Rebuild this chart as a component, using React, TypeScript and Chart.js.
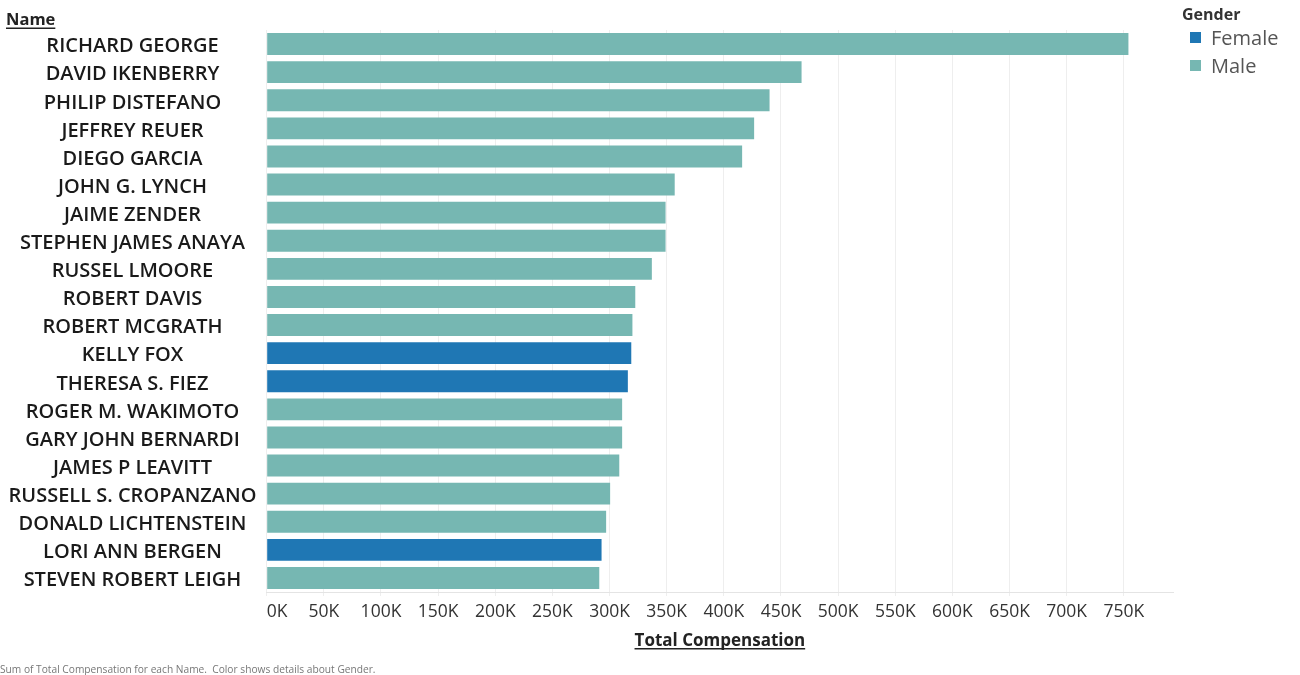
import React, { useEffect, useRef } from "react";
import { Chart, registerables } from "chart.js";

Chart.register(...registerables);

const names = [
  "RICHARD GEORGE",
  "DAVID IKENBERRY",
  "PHILIP DISTEFANO",
  "JEFFREY REUER",
  "DIEGO GARCIA",
  "JOHN G. LYNCH",
  "JAIME ZENDER",
  "STEPHEN JAMES ANAYA",
  "RUSSEL LMOORE",
  "ROBERT DAVIS",
  "ROBERT MCGRATH",
  "KELLY FOX",
  "THERESA S. FIEZ",
  "ROGER M. WAKIMOTO",
  "GARY JOHN BERNARDI",
  "JAMES P LEAVITT",
  "RUSSELL S. CROPANZANO",
  "DONALD LICHTENSTEIN",
  "LORI ANN BERGEN",
  "STEVEN ROBERT LEIGH",
];

const compensation = [
  754000, 468000, 440000, 426500, 416000, 357000, 349000, 349000, 337000,
  322500, 320000, 319000, 316000, 311000, 311000, 308500, 300500, 297000,
  293000, 291000,
];

const genders = [
  "Male", "Male", "Male", "Male", "Male", "Male", "Male", "Male", "Male",
  "Male", "Male", "Female", "Female", "Male", "Male", "Male", "Male", "Male",
  "Female", "Male",
];

const genderLabels = ["Female", "Male"];
const genderColors = ["#1F77B4", "#76B7B2"];

const tickValues = [
  0, 50000, 100000, 150000, 200000, 250000, 300000, 350000, 400000, 450000,
  500000, 550000, 600000, 650000, 700000, 750000,
];
const axisMax = 793000;

const FONT = '"Open Sans", "Noto Sans", sans-serif';

function underlinedText(ctx: CanvasRenderingContext2D, text: string, x: number, y: number, align: CanvasTextAlign) {
  ctx.textAlign = align;
  ctx.fillText(text, x, y);
  const w = ctx.measureText(text).width;
  const left = align === "center" ? x - w / 2 : x;
  ctx.fillRect(left, y + 2.5, w, 1.5);
}

const overlayPlugin = {
  id: "overlay",
  afterDraw(chart: any) {
    const ctx: CanvasRenderingContext2D = chart.ctx;
    const yScale = chart.scales.y;
    const area = chart.chartArea;
    ctx.save();
    // category labels
    ctx.fillStyle = "#1a1a1a";
    ctx.font = `600 20px ${FONT}`;
    ctx.textAlign = "center";
    ctx.textBaseline = "alphabetic";
    names.forEach((n, i) => {
      const py = yScale.getPixelForValue(i);
      ctx.fillText(n, 132.5, py + 8.3);
    });
    // header "Name"
    ctx.fillStyle = "#222";
    ctx.font = `700 16.5px ${FONT}`;
    underlinedText(ctx, "Name", 6, 25, "left");
    // x axis title
    ctx.font = `700 17px ${FONT}`;
    underlinedText(ctx, "Total Compensation", (area.left + area.right) / 2, 645.5, "center");
    // legend
    ctx.fillStyle = "#333";
    ctx.font = `700 16px ${FONT}`;
    ctx.textAlign = "left";
    ctx.fillText("Gender", 1182, 20);
    ctx.font = `400 20px ${FONT}`;
    genderLabels.forEach((g, i) => {
      const base = 44.5 + i * 28;
      ctx.fillStyle = genderColors[i];
      ctx.fillRect(1190, base - 12.5, 11, 11);
      ctx.fillStyle = "#555";
      ctx.fillText(g, 1211, base);
    });
    // footer
    ctx.fillStyle = "#777";
    ctx.font = `400 10.2px ${FONT}`;
    ctx.fillText(
      "Sum of Total Compensation for each Name.  Color shows details about Gender.",
      0,
      673
    );
    ctx.restore();
  },
};

export default function App() {
  const canvasRef = useRef<HTMLCanvasElement | null>(null);

  useEffect(() => {
    const canvas = canvasRef.current;
    if (!canvas) return;
    const chart = new Chart(canvas, {
      type: "bar",
      data: {
        labels: names,
        datasets: [
          {
            label: "Total Compensation",
            data: compensation,
            backgroundColor: genders.map((g) => genderColors[genderLabels.indexOf(g)]),
            barPercentage: 0.78,
            categoryPercentage: 1,
          },
        ],
      },
      options: {
        indexAxis: "y",
        animation: false,
        responsive: false,
        devicePixelRatio: 1,
        layout: { padding: { top: 30, right: 127, left: 0, bottom: 0 } },
        plugins: {
          legend: { display: false },
          tooltip: { enabled: false },
        },
        scales: {
          y: {
            type: "category",
            ticks: { display: false },
            grid: { display: false },
            border: { display: false },
            afterFit: (s: any) => {
              s.width = 266.7;
            },
          },
          x: {
            type: "linear",
            position: "bottom",
            min: 0,
            max: axisMax,
            afterBuildTicks: (s: any) => {
              s.ticks = [...tickValues, axisMax].map((v) => ({ value: v }));
            },
            ticks: {
              align: "inner",
              color: "#333333",
              font: { family: FONT, size: 17.5 },
              padding: 6,
              maxRotation: 0,
              autoSkip: false,
              callback: (v: any) => (tickValues.includes(Number(v)) ? `${Number(v) / 1000}K` : ""),
            },
            grid: {
              color: (c: any) =>
                c.tick && tickValues.includes(c.tick.value) ? "#eeeeee" : "rgba(0,0,0,0)",
              lineWidth: 1,
              drawTicks: true,
              tickLength: 4,
            },
            border: { display: true, color: "#e4e4e4" },
            afterFit: (s: any) => {
              s.height = 83;
            },
          },
        },
      },
      plugins: [overlayPlugin],
    });
    return () => chart.destroy();
  }, []);

  return (
    <div style={{ position: "fixed", left: 0, top: 0, width: 1300, height: 675, background: "#fff" }}>
      <canvas ref={canvasRef} width={1300} height={675} style={{ display: "block" }} />
    </div>
  );
}
